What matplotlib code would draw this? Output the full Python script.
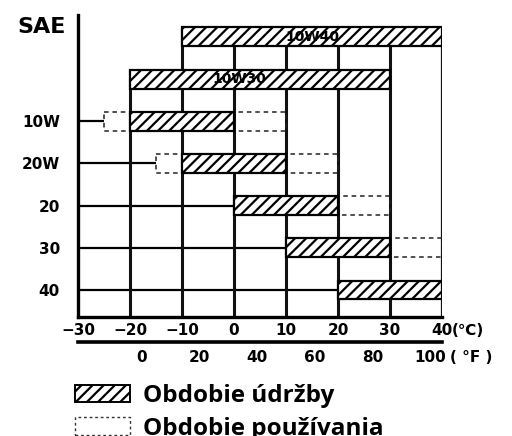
import matplotlib.pyplot as plt
from matplotlib.patches import Rectangle, Patch

# SAE grades, top to bottom, with temperature ranges in deg C
grades = ['10W40', '10W30', '10W', '20W', '20', '30', '40']
maint_lo = [-10, -20, -20, -10, 0, 10, 20]
maint_hi = [40, 30, 0, 10, 20, 30, 40]
use_lo = [None, None, -25, -15, 0, 10, 20]
use_hi = [None, None, 10, 20, 30, 40, 40]

c_ticks = [-30, -20, -10, 0, 10, 20, 30, 40]
f_ticks = [0, 20, 40, 60, 80, 100]
grid_c = [-20, -10, 0, 10, 20, 30, 40]

# grades drawn as axis labels (the two multigrades get labels inside their bars)
axis_grades = ['10W', '20W', '20', '30', '40']
bar_text_x = {'10W40': 15, '10W30': 1}

plt.rcParams['hatch.linewidth'] = 1.6
font = dict(family='DejaVu Sans', fontweight='bold')

fig = plt.figure(figsize=(5.12, 4.36), dpi=100)
ax = fig.add_axes([78 / 512, 1 - 317 / 436, 364 / 512, 302 / 436])
ax.set_xlim(-30, 40)
ax.set_ylim(6.64, -0.52)

h = 0.45
rows = range(len(grades))

# horizontal lines from the SAE axis to where each grade's range starts
for i in rows:
    if grades[i] in axis_grades:
        start = min(maint_lo[i], use_lo[i] if use_lo[i] is not None else maint_lo[i])
        ax.hlines(i, -30, start, color='black', lw=1.6, zorder=1)

# vertical temperature lines, each up to the highest bar it meets
for x in grid_c:
    top = min(i for i in rows if maint_lo[i] <= x <= maint_hi[i])
    ax.vlines(x, top - h / 2, 6.64, color='#111111', lw=2.2 if x < 40 else 1.6, zorder=1)

# usage ranges (dashed outline)
for i in rows:
    if use_lo[i] is None:
        continue
    ax.add_patch(Rectangle((use_lo[i], i - h / 2), use_hi[i] - use_lo[i], h,
                           fill=False, edgecolor='#222222', lw=1.1,
                           linestyle=(0, (3, 2.5)), zorder=2))

# maintenance ranges (hatched)
for i in rows:
    ax.add_patch(Rectangle((maint_lo[i], i - h / 2), maint_hi[i] - maint_lo[i], h,
                           facecolor='white', edgecolor='black', hatch='///',
                           lw=1.6, zorder=3))
    if grades[i] in bar_text_x:
        ax.text(bar_text_x[grades[i]], i, grades[i], ha='center', va='center',
                fontsize=10, zorder=4, **font)

for s in ['top', 'right']:
    ax.spines[s].set_visible(False)
for s in ['left', 'bottom']:
    ax.spines[s].set_linewidth(2.4)

ax.set_yticks([grades.index(g) for g in axis_grades])
ax.set_yticklabels(axis_grades, fontsize=11, **font)
ax.tick_params(axis='y', length=0, pad=13)
ax.set_xticks(c_ticks)
ax.set_xticklabels([f'{t}'.replace('-', '\u2212') for t in c_ticks], fontsize=11, **font)
ax.tick_params(axis='x', length=0, pad=4)
ax.text(-32.3, -0.23, 'SAE', ha='right', va='center', fontsize=16, **font)
ax.annotate('(\u2103)', xy=(40, 6.64), xytext=(7, -4), textcoords='offset points',
            ha='left', va='top', fontsize=11, annotation_clip=False, **font)

# Fahrenheit scale under the Celsius one
sec = ax.secondary_xaxis(-0.083, functions=(lambda c: c * 9 / 5 + 32,
                                             lambda f: (f - 32) * 5 / 9))
sec.set_xticks(f_ticks)
sec.set_xticklabels([str(t) for t in f_ticks], fontsize=11, **font)
sec.tick_params(axis='x', length=0, pad=6)
sec.spines['bottom'].set_linewidth(2.6)
ax.annotate('( \u00b0F )', xy=(40, 6.64), xytext=(6, -24),
            textcoords='offset points', ha='left', va='top', fontsize=11,
            annotation_clip=False, **font)

handles = [Patch(facecolor='white', edgecolor='black', hatch='///', lw=1.4),
           Patch(facecolor='white', edgecolor='#333333', lw=1.0, linestyle=(0, (2, 2)))]
fig.legend(handles, ['Obdobie údržby', 'Obdobie používania'],
           loc='upper left', bbox_to_anchor=(58 / 512, 1 - 367 / 436),
           frameon=False, handlelength=2.25, handleheight=0.74, handletextpad=0.55,
           labelspacing=0.35, borderpad=0.2,
           prop=dict(family='Open Sans', weight='bold', size=17.5))

fig.savefig('out.png', dpi=100)
